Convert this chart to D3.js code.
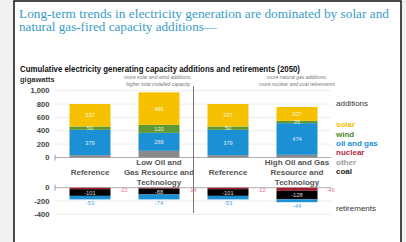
<!DOCTYPE html>
<html><head><meta charset="utf-8">
<script src="https://cdn.jsdelivr.net/npm/d3@7"></script>
<style>
html,body{margin:0;padding:0;background:#f1f1f1;}
svg{display:block;}
</style></head>
<body>
<script>
const categories = ["Reference", "Low Oil and Gas Resource and Technology", "Reference", "High Oil and Gas Resource and Technology"];
const categoryLines = [["Reference"], ["Low Oil and", "Gas Resource and", "Technology"], ["Reference"], ["High Oil and Gas", "Resource and", "Technology"]];
const addOther  = [35, 100, 35, 40];
const addOilGas = [379, 269, 379, 474];
const addWind   = [50, 120, 50, 35];
const addSolar  = [337, 486, 337, 207];
const retNuclear = [-22, -14, -22, -46];
const retCoal    = [-101, -88, -101, -128];
const retOilGas  = [-53, -74, -53, -44];
const upperTicks = [0, 200, 400, 600, 800, 1000];
const lowerTicks = [0, -200, -400];
const legendItems = ["solar", "wind", "oil and gas", "nuclear", "other", "coal"];
const notes = [["more solar and wind additions,", "higher total installed capacity"], ["more natural gas additions,", "more nuclear and coal retirements"]];

const colors = {solar:"#f6c100", wind:"#5f9934", oilgas:"#1b90d5", nuclear:"#a31d32", other:"#8a8a8a", coal:"#000000"};
const legendColors = ["#f2c000", "#4d8a2a", "#1b90d5", "#b3283f", "#9a9a9a", "#222222"];

const W = 406, H = 242;
const svg = d3.select("body").append("svg").attr("width", W).attr("height", H);
svg.append("rect").attr("x", 0).attr("y", 0).attr("width", W).attr("height", H).attr("fill", "#f1f1f1");
svg.append("rect").attr("x", 14).attr("y", 1).attr("width", 387).attr("height", 245)
  .attr("fill", "#fff").attr("stroke", "#111").attr("stroke-width", 1.5);

// Main title
const tcol = "#3a9cc6";
svg.append("text").attr("x", 19).attr("y", 18).attr("font-family", "Liberation Serif, serif")
  .attr("font-size", 11.5).attr("fill", tcol).attr("textLength", 370).attr("lengthAdjust", "spacingAndGlyphs")
  .text("Long-term trends in electricity generation are dominated by solar and");
svg.append("text").attr("x", 19).attr("y", 31).attr("font-family", "Liberation Serif, serif")
  .attr("font-size", 11.5).attr("fill", tcol).attr("textLength", 198).attr("lengthAdjust", "spacingAndGlyphs")
  .text("natural gas-fired capacity additions\u2014");

// chart title
svg.append("text").attr("x", 20).attr("y", 72).attr("font-family", "Liberation Sans, Arial, sans-serif")
  .attr("font-size", 8.3).attr("font-weight", "bold").attr("fill", "#111")
  .attr("textLength", 280).attr("lengthAdjust", "spacingAndGlyphs")
  .text("Cumulative electricity generating capacity additions and retirements (2050)");
svg.append("text").attr("x", 20).attr("y", 81.5).attr("font-family", "Liberation Sans, Arial, sans-serif")
  .attr("font-size", 7.5).attr("font-weight", "bold").attr("fill", "#333").text("gigawatts");

const x = d3.scaleBand().domain(d3.range(categories.length)).range([55.5, 331.5]).paddingInner(0.406).paddingOuter(0.203);
const yU = d3.scaleLinear().domain([0, 1000]).range([157.5, 90.7]);
const yL = d3.scaleLinear().domain([-400, 0]).range([214.3, 187.7]);

const font = "Liberation Sans, Arial, sans-serif";
function grid(scale, ticks) {
  const g = svg.append("g");
  g.selectAll("line").data(ticks).join("line")
    .attr("x1", 55).attr("x2", 331).attr("y1", d => scale(d)).attr("y2", d => scale(d))
    .attr("stroke", d => d === 0 ? "#999" : "#e4e4e4").attr("stroke-width", d => d === 0 ? 0.8 : 0.7);
  g.selectAll("text").data(ticks).join("text")
    .attr("x", 49.5).attr("y", d => scale(d)).attr("dy", "0.35em").attr("text-anchor", "end")
    .attr("font-family", font).attr("font-size", 7.6).attr("font-weight", "bold").attr("fill", "#444")
    .text(d => d3.format(",")(d).replace("\u2212", "-"));
  g.append("line").attr("x1", 55).attr("x2", 55).attr("y1", scale(0) - 3).attr("y2", scale(0) + 3)
    .attr("stroke", "#888").attr("stroke-width", 0.8);
}
grid(yU, upperTicks);
grid(yL, lowerTicks);

// additions stack
const addData = categories.map((c, i) => ({i, other: addOther[i], oilgas: addOilGas[i], wind: addWind[i], solar: addSolar[i]}));
const addKeys = ["other", "oilgas", "wind", "solar"];
const addStack = d3.stack().keys(addKeys)(addData);
svg.append("g").selectAll("g").data(addStack).join("g").attr("fill", s => colors[s.key])
  .selectAll("rect").data(s => s).join("rect")
  .attr("x", d => x(d.data.i)).attr("width", x.bandwidth())
  .attr("y", d => yU(d[1])).attr("height", d => yU(d[0]) - yU(d[1]));
svg.append("g").selectAll("g").data(addStack.filter(s => s.key !== "other")).join("g")
  .selectAll("text").data(s => s.map(d => ({d, key: s.key}))).join("text")
  .attr("x", o => x(o.d.data.i) + x.bandwidth() / 2).attr("y", o => yU((o.d[0] + o.d[1]) / 2)).attr("dy", "0.35em")
  .attr("text-anchor", "middle").attr("font-family", font).attr("font-size", 5.8)
  .attr("fill", "#fff").attr("fill-opacity", 0.85)
  .text(o => o.d.data[o.key]);

// retirements stack (diverging: for negatives d[0] is lower value, d[1] upper)
const retData = categories.map((c, i) => ({i, nuclear: retNuclear[i], coal: retCoal[i], oilgas: retOilGas[i]}));
const retKeys = ["nuclear", "coal", "oilgas"];
const retStack = d3.stack().keys(retKeys).offset(d3.stackOffsetDiverging)(retData);
svg.append("g").selectAll("g").data(retStack).join("g").attr("fill", s => colors[s.key])
  .selectAll("rect").data(s => s).join("rect")
  .attr("x", d => x(d.data.i)).attr("width", x.bandwidth())
  .attr("y", d => yL(Math.max(d[0], d[1]))).attr("height", d => Math.abs(yL(d[0]) - yL(d[1])));
const coalS = retStack.find(s => s.key === "coal");
svg.append("g").selectAll("text").data(coalS).join("text")
  .attr("x", d => x(d.data.i) + x.bandwidth() / 2).attr("y", d => yL((d[0] + d[1]) / 2)).attr("dy", "0.35em")
  .attr("text-anchor", "middle").attr("font-family", font).attr("font-size", 5.8).attr("fill", "#fff").attr("fill-opacity", 0.85)
  .text(d => d.data.coal);
const ogS = retStack.find(s => s.key === "oilgas");
svg.append("g").selectAll("text").data(ogS).join("text")
  .attr("x", d => x(d.data.i) + x.bandwidth() / 2).attr("y", d => yL(Math.min(d[0], d[1])) + 4).attr("dy", "0.35em")
  .attr("text-anchor", "middle").attr("font-family", font).attr("font-size", 5.8).attr("fill", "#4aa6de")
  .text(d => d.data.oilgas);
const nucS = retStack.find(s => s.key === "nuclear");
svg.append("g").selectAll("text").data(nucS).join("text")
  .attr("x", d => x(d.data.i) + x.bandwidth() + 13).attr("y", yL(0) + 2.5).attr("dy", "0.35em")
  .attr("text-anchor", "middle").attr("font-family", font).attr("font-size", 5.8).attr("fill", "#e07888")
  .text(d => d.data.nuclear);

// category labels
const catG = svg.append("g");
categoryLines.forEach((lines, i) => {
  const top = lines.length === 1 ? 172 : 162.5;
  lines.forEach((ln, j) => {
    catG.append("text").attr("x", x(i) + x.bandwidth() / 2).attr("y", top + j * 10).attr("dy", "0.35em")
      .attr("text-anchor", "middle").attr("font-family", font).attr("font-size", 8).attr("font-weight", "bold")
      .attr("fill", "#555").text(ln);
  });
});

// divider
const divX = (x(1) + x.bandwidth() + x(2)) / 2;
svg.append("line").attr("x1", divX).attr("x2", divX).attr("y1", 86).attr("y2", 213)
  .attr("stroke", "#666").attr("stroke-width", 0.9);

// notes
notes.forEach((ls, k) => {
  const cx = k === 0 ? (x(1) + x.bandwidth() / 2) - 1 : (x(3) + x.bandwidth() / 2);
  ls.forEach((t, j) => {
    svg.append("text").attr("x", cx).attr("y", 77.5 + j * 6.5).attr("dy", "0.35em").attr("text-anchor", "middle")
      .attr("font-family", font).attr("font-size", 5).attr("font-style", "italic").attr("fill", "#777").text(t);
  });
});

// legend
svg.append("text").attr("x", 336).attr("y", 103).attr("dy", "0.35em").attr("font-family", font)
  .attr("font-size", 8).attr("fill", "#333").text("additions");
const legY = [124, 134, 143.5, 152.5, 162, 171.5];
svg.append("g").selectAll("text").data(legendItems).join("text")
  .attr("x", 336).attr("y", (d, i) => legY[i]).attr("dy", "0.35em").attr("font-family", font)
  .attr("font-size", 8).attr("font-weight", "bold").attr("fill", (d, i) => legendColors[i]).text(d => d);
svg.append("text").attr("x", 336).attr("y", 208).attr("dy", "0.35em").attr("font-family", font)
  .attr("font-size", 8).attr("fill", "#333").text("retirements");
</script>
</body></html>
